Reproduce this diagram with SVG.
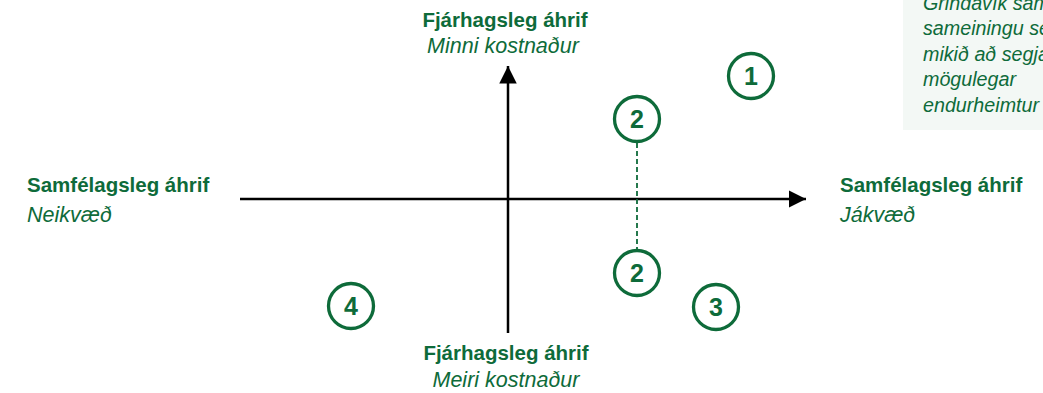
<svg xmlns="http://www.w3.org/2000/svg" width="1043" height="393" viewBox="0 0 1043 393">
<style>
.t{font-family:"Liberation Sans",Arial,sans-serif;fill:#0e6b3a;font-size:20.5px}
.b{font-weight:bold}
.i{font-style:italic;font-size:21.5px}
.s{font-family:"Liberation Sans",Arial,sans-serif;fill:#0e6b3a;font-size:19.7px;font-style:italic}
.c{fill:#fff;stroke:#0e6b3a;stroke-width:3.3}
.n{font-family:"Liberation Sans",Arial,sans-serif;font-weight:bold;font-size:25px;fill:#0e6b3a;text-anchor:middle}
.ax{stroke:#000;stroke-width:2.5;fill:none}
</style>
<defs>
<marker id="ah" viewBox="0 0 10 10" refX="10" refY="5" markerWidth="7" markerHeight="7" markerUnits="strokeWidth" orient="auto">
<path d="M0,0 L10,5 L0,10 z" fill="#000"/>
</marker>
</defs>
<g id="note">
<rect x="903" y="-2" width="142" height="132" fill="#f3f8f5"/>
<text class="s" x="923" y="10">Grindavík sam</text>
<text class="s" x="923" y="35">sameiningu se</text>
<text class="s" x="923" y="61">mikið að segja</text>
<text class="s" x="923" y="86">mögulegar</text>
<text class="s" x="923" y="112">endurheimtur</text>
</g>
<g id="connectors">
<line class="ax" x1="240" y1="199" x2="806" y2="199" marker-end="url(#ah)"/>
<line class="ax" x1="508" y1="333" x2="508" y2="66" marker-end="url(#ah)"/>
<line x1="637" y1="143" x2="637" y2="249" stroke="#0e6b3a" stroke-width="1.8" stroke-dasharray="5,3"/>
</g>
<g id="label-top">
<text class="t b" x="505" y="27" text-anchor="middle">Fjárhagsleg áhrif</text>
<text class="t i" x="503" y="53" text-anchor="middle">Minni kostnaður</text>
</g>
<g id="label-bottom">
<text class="t b" x="506" y="360" text-anchor="middle">Fjárhagsleg áhrif</text>
<text class="t i" x="506" y="387" text-anchor="middle">Meiri kostnaður</text>
</g>
<g id="label-left">
<text class="t b" x="27" y="192">Samfélagsleg áhrif</text>
<text class="t i" x="27" y="222">Neikvæð</text>
</g>
<g id="label-right">
<text class="t b" x="840" y="192">Samfélagsleg áhrif</text>
<text class="t i" x="840" y="222">Jákvæð</text>
</g>
<g id="n1"><circle class="c" cx="751" cy="76" r="22.5"/><text class="n" x="751" y="85">1</text></g>
<g id="n2a"><circle class="c" cx="637" cy="119" r="22.5"/><text class="n" x="637" y="128">2</text></g>
<g id="n2b"><circle class="c" cx="637" cy="273" r="22.5"/><text class="n" x="637" y="282">2</text></g>
<g id="n4"><circle class="c" cx="351" cy="306" r="22.5"/><text class="n" x="351" y="315">4</text></g>
<g id="n3"><circle class="c" cx="716" cy="307" r="22.5"/><text class="n" x="716" y="316">3</text></g>
</svg>
